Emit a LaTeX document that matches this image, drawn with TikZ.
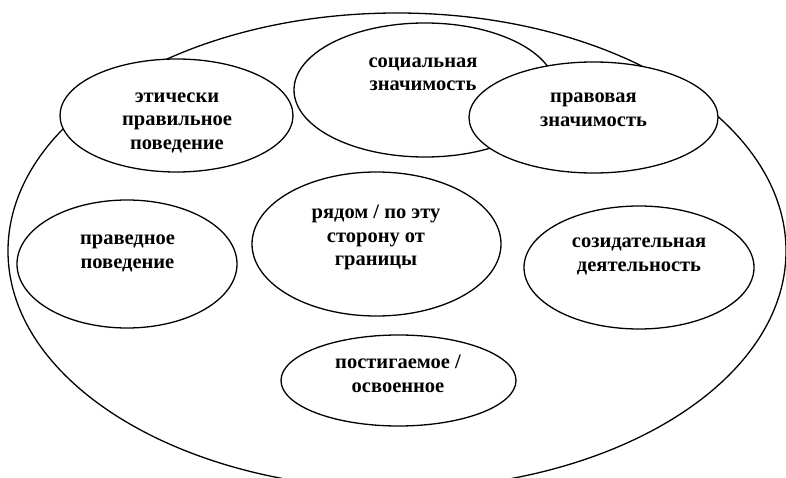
\documentclass[tikz,border=0pt]{standalone}
\usepackage{fontspec}
\setmainfont{Liberation Serif}
\usetikzlibrary{shapes.geometric}
\begin{document}
\begin{tikzpicture}[x=1pt,y=-1pt,
  oval/.style={ellipse, draw, line width=1.3pt, fill=white, inner sep=0pt, outer sep=0pt},
  lbl/.style={align=center, font=\fontsize{20.5}{23.5}\selectfont\bfseries, inner sep=0pt}]
\useasboundingbox (0,0) rectangle (786,478);
\begin{scope}
\clip (0,0) rectangle (786,478);
\node[oval, minimum width=778pt, minimum height=476pt] (outer) at (397,251) {};
\end{scope}
\node[oval, minimum width=262pt, minimum height=134pt] (soc) at (425,90) {};
\node[oval, minimum width=249pt, minimum height=111pt] (prav) at (593.5,117.5) {};
\node[oval, minimum width=233pt, minimum height=113pt] (eth) at (176.5,115.5) {};
\node[oval, minimum width=220pt, minimum height=128pt] (pravd) at (127,264) {};
\node[oval, minimum width=249pt, minimum height=144pt] (ryad) at (376.5,244) {};
\node[oval, minimum width=230pt, minimum height=123pt] (soz) at (639,267.5) {};
\node[oval, minimum width=235pt, minimum height=91pt] (post) at (398.5,380.5) {};
\node[lbl] (t1) at (177,121) {\strut этически\\\strut правильное\\\strut поведение};
\node[lbl] (t2) at (423,74.5) {\strut социальная\\\strut значимость};
\node[lbl] (t3) at (593.5,110) {\strut правовая\\\strut значимость};
\node[lbl] (t4) at (127.5,252) {\strut праведное\\\strut поведение};
\node[lbl] (t5) at (376,237.5) {\strut рядом / по эту\\\strut сторону от\\\strut границы};
\node[lbl] (t6) at (639,255) {\strut созидательная\\\strut деятельность};
\node[lbl] (t7) at (398,376) {\strut постигаемое /\\\strut освоенное};
\end{tikzpicture}
\end{document}
